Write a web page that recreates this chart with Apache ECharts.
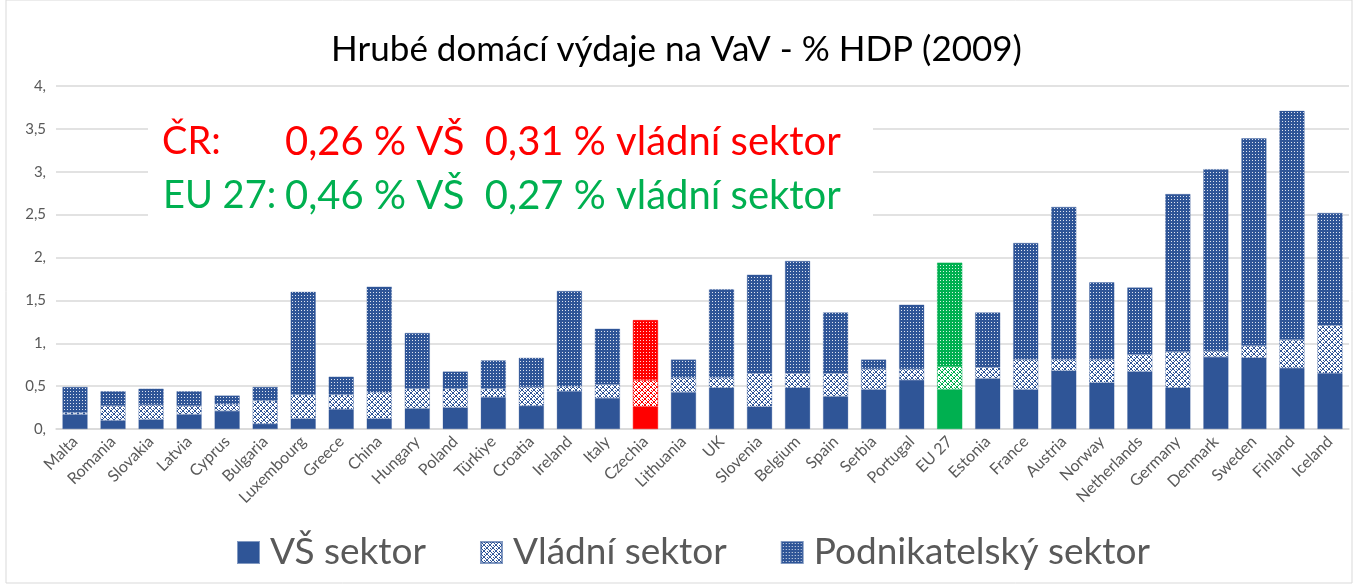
<!DOCTYPE html>
<html>
<head>
<meta charset="utf-8">
<script src="https://cdn.jsdelivr.net/npm/echarts@6/dist/echarts.min.js"></script>
<style>
  html, body { margin: 0; padding: 0; background: #fff; }
  #main { width: 1353px; height: 585px; }
</style>
</head>
<body>
<div id="main"></div>
<script>
// countries, sorted as in the source picture
var countries = ['Malta', 'Romania', 'Slovakia', 'Latvia', 'Cyprus', 'Bulgaria', 'Luxembourg', 'Greece', 'China',
    'Hungary', 'Poland', 'Türkiye', 'Croatia', 'Ireland', 'Italy', 'Czechia', 'Lithuania', 'UK', 'Slovenia',
    'Belgium', 'Spain', 'Serbia', 'Portugal', 'EU 27', 'Estonia', 'France', 'Austria', 'Norway', 'Netherlands',
    'Germany', 'Denmark', 'Sweden', 'Finland', 'Iceland'];

// % HDP
var vsSektor = [0.17, 0.10, 0.11, 0.17, 0.21, 0.06, 0.12, 0.23, 0.12,
    0.24, 0.25, 0.37, 0.27, 0.44, 0.36, 0.26, 0.43, 0.48, 0.26,
    0.48, 0.38, 0.46, 0.57, 0.46, 0.59, 0.46, 0.68, 0.54, 0.67,
    0.48, 0.84, 0.83, 0.71, 0.65];
var vladniSektor = [0.02, 0.17, 0.17, 0.10, 0.08, 0.27, 0.28, 0.17, 0.31,
    0.23, 0.22, 0.10, 0.22, 0.06, 0.16, 0.31, 0.17, 0.12, 0.39,
    0.17, 0.27, 0.24, 0.13, 0.27, 0.13, 0.35, 0.13, 0.27, 0.20,
    0.42, 0.07, 0.14, 0.33, 0.56];
var podnikatelskySektor = [0.30, 0.17, 0.19, 0.17, 0.10, 0.16, 1.20, 0.21, 1.23,
    0.65, 0.20, 0.33, 0.34, 1.11, 0.65, 0.70, 0.21, 1.03, 1.15,
    1.31, 0.71, 0.11, 0.75, 1.21, 0.64, 1.36, 1.78, 0.90, 0.78,
    1.84, 2.12, 2.42, 2.67, 1.31];

var seriesNames = ['VŠ sektor', 'Vládní sektor', 'Podnikatelský sektor'];
var yTicks = [0, 0.5, 1, 1.5, 2, 2.5, 3, 3.5, 4];

var BLUE = '#2F5597';
var RED = '#FF0000';
var GREEN = '#00B050';
var highlight = { 'Czechia': RED, 'EU 27': GREEN };

// hatch patterns like the office fills
function dotPattern(color) {
    var c = document.createElement('canvas');
    c.width = 3; c.height = 3;
    var ctx = c.getContext('2d');
    ctx.fillStyle = color;
    ctx.fillRect(0, 0, 3, 3);
    ctx.fillStyle = 'rgba(255,255,255,0.85)';
    ctx.fillRect(1, 1, 1, 1);
    return { image: c, repeat: 'repeat' };
}
function gridPattern(color) {
    var c = document.createElement('canvas');
    c.width = 6; c.height = 6;
    var ctx = c.getContext('2d');
    ctx.fillStyle = '#ffffff';
    ctx.fillRect(0, 0, 6, 6);
    ctx.fillStyle = color;
    for (var i = 0; i < 6; i++) {
        ctx.fillRect(i, i, 1, 1);
        ctx.fillRect(5 - i, i, 1, 1);
    }
    ctx.fillRect(0, 3, 1, 1);
    ctx.fillRect(3, 0, 1, 1);
    return { image: c, repeat: 'repeat' };
}
var fills = [
    function (c) { return c; },
    gridPattern,
    dotPattern
];

function buildData(values, k) {
    return values.map(function (v, i) {
        var hc = highlight[countries[i]];
        if (hc) {
            return { value: v, itemStyle: { color: fills[k](hc), borderColor: hc } };
        }
        return v;
    });
}

var myChart = echarts.init(document.getElementById('main'));

var series = [vsSektor, vladniSektor, podnikatelskySektor].map(function (vals, k) {
    return {
        name: seriesNames[k],
        type: 'bar',
        stack: 'total',
        barCategoryGap: '34%',
        itemStyle: {
            color: fills[k](BLUE),
            borderColor: 'rgba(47,85,151,0.6)',
            borderWidth: 0.5
        },
        emphasis: { disabled: true },
        data: buildData(vals, k)
    };
});

var option = {
    animation: false,
    backgroundColor: '#ffffff',
    title: {
        text: 'Hrubé domácí výdaje na VaV - % HDP (2009)',
        left: 'center',
        top: 27,
        textStyle: {
            fontFamily: 'Lato',
            fontWeight: 'normal',
            fontSize: 35,
            color: '#000000'
        }
    },
    legend: {
        data: seriesNames,
        icon: 'rect',
        left: 232,
        top: 529,
        itemWidth: 21,
        itemHeight: 21,
        itemGap: 54,
        textStyle: {
            fontFamily: 'Lato',
            fontSize: 37,
            color: '#595959',
            padding: [0, 0, 0, 6]
        }
    },
    grid: {
        left: 56,
        right: 4,
        top: 86,
        bottom: 156
    },
    xAxis: {
        type: 'category',
        data: countries,
        axisLine: { lineStyle: { color: '#d9d9d9', width: 1.5 } },
        axisTick: { show: false },
        axisLabel: {
            rotate: 45,
            interval: 0,
            fontFamily: 'Lato',
            fontSize: 16,
            color: '#595959',
            margin: 10
        }
    },
    yAxis: {
        type: 'value',
        min: yTicks[0],
        max: yTicks[yTicks.length - 1],
        interval: 0.5,
        axisLine: { show: false },
        axisTick: { show: false },
        splitLine: { lineStyle: { color: '#d9d9d9', width: 1.5 } },
        axisLabel: {
            fontFamily: 'Lato',
            fontSize: 15,
            color: '#595959',
            margin: 10,
            formatter: function (v) {
                return Number.isInteger(v) ? v + ',' : String(v).replace('.', ',');
            }
        }
    },
    graphic: [
        {
            type: 'rect',
            z: 1,
            shape: { x: 6, y: 0, width: 1346, height: 583 },
            style: { fill: 'none', stroke: '#d9d9d9', lineWidth: 1 }
        },
        {
            type: 'rect',
            z: 1,
            shape: { x: 148, y: 96, width: 725, height: 136 },
            style: { fill: '#ffffff' }
        },
        {
            type: 'text', z: 10, left: 162, top: 123,
            style: { text: 'ČR:', font: '38px Lato', fill: RED }
        },
        {
            type: 'text', z: 10, left: 285, top: 122,
            style: { text: '0,26 % VŠ  0,31 % vládní sektor', font: '40px Lato', fill: RED }
        },
        {
            type: 'text', z: 10, left: 163, top: 177,
            style: { text: 'EU 27:', font: '38px Lato', fill: GREEN }
        },
        {
            type: 'text', z: 10, left: 285, top: 176,
            style: { text: '0,46 % VŠ  0,27 % vládní sektor', font: '40px Lato', fill: GREEN }
        }
    ],
    series: series
};

myChart.setOption(option);
</script>
</body>
</html>
